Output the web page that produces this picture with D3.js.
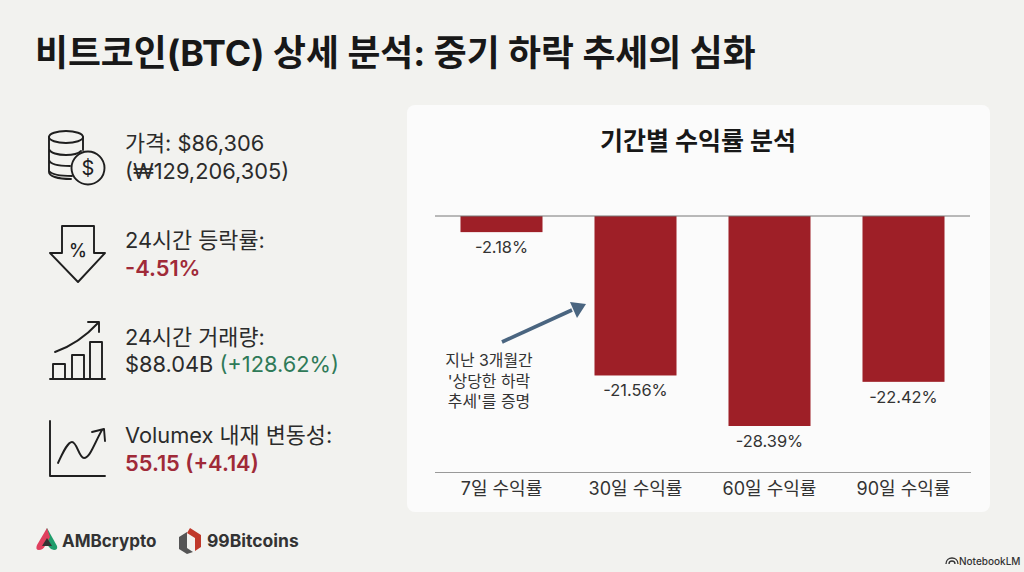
<!DOCTYPE html>
<html lang="ko">
<head>
<meta charset="utf-8">
<script src="https://cdnjs.cloudflare.com/ajax/libs/d3/7.8.5/d3.min.js"></script>
<style>
html,body{margin:0;padding:0;background:#f2f2ef;overflow:hidden}
svg{display:block}
text{font-family:Inter,"Noto Sans CJK KR","Noto Sans",sans-serif}
</style>
</head>
<body>
<svg id="c" width="1024" height="572"></svg>
<script>
const pageTitle = "비트코인(BTC) 상세 분석: 중기 하락 추세의 심화";
const chartTitle = "기간별 수익률 분석";
const categories = ["7일 수익률", "30일 수익률", "60일 수익률", "90일 수익률"];
const returns = [-2.18, -21.56, -28.39, -22.42];
const noteLines = ["지난 3개월간", "'상당한 하락", "추세'를 증명"];
const stat1 = ["가격: $86,306", "(₩129,206,305)"];
const stat2 = ["24시간 등락률:", "-4.51%"];
const stat3 = ["24시간 거래량:", "$88.04B ", "(+128.62%)"];
const stat4 = ["Volumex 내재 변동성:", "55.15 (+4.14)"];

const RED = "#9e1f27", INK = "#1f1f1f", TXT = "#2b2b2b", SLATE = "#4a6580";
const FS = 21.8;
const svg = d3.select("#c");

svg.append("text").attr("x", 35).attr("y", 66).attr("font-size", 35.8).attr("font-weight", 700)
  .attr("fill", "#181818").text(pageTitle);

// Panel
svg.append("rect").attr("x", 407).attr("y", 105).attr("width", 583).attr("height", 407)
  .attr("rx", 8).attr("fill", "#fbfbfb");
svg.append("text").attr("x", 698).attr("y", 150).attr("text-anchor", "middle")
  .attr("font-size", 25).attr("font-weight", 700).attr("fill", "#181818").text(chartTitle);

// Scales
const x = d3.scaleBand().domain(categories).range([434.5, 970.5]).paddingInner(0.388).paddingOuter(0.194);
const y = d3.scaleLinear().domain([0, -28.39]).range([216, 426]);

// Bars
svg.append("g").selectAll("rect").data(returns).join("rect")
  .attr("x", (d, i) => x(categories[i]))
  .attr("y", y(0))
  .attr("width", x.bandwidth())
  .attr("height", d => y(d) - y(0))
  .attr("fill", RED);

// Zero line
svg.append("line").attr("x1", 435).attr("x2", 970).attr("y1", 216).attr("y2", 216)
  .attr("stroke", "#777").attr("stroke-width", 1);

// Value labels
svg.append("g").selectAll("text").data(returns).join("text")
  .attr("x", (d, i) => x(categories[i]) + x.bandwidth() / 2)
  .attr("y", d => y(d) + 21)
  .attr("text-anchor", "middle").attr("font-size", 16.4).attr("fill", "#333")
  .text(d => d.toFixed(2) + "%");

// Category axis
const axis = svg.append("g").attr("transform", "translate(0,472)")
  .call(d3.axisBottom(x).tickSize(0).tickPadding(10));
axis.select(".domain").attr("stroke", "#999").attr("stroke-width", 1.2);
axis.selectAll("text").attr("font-size", 18).attr("fill", "#333")
  .style("font-family", 'Inter,"Noto Sans CJK KR",sans-serif');

// Annotation
svg.append("line").attr("x1", 502).attr("y1", 342).attr("x2", 572).attr("y2", 310)
  .attr("stroke", SLATE).attr("stroke-width", 3.6);
svg.append("path").attr("d", "M586,304 L570,302 L577,318 Z").attr("fill", SLATE);
svg.append("g").selectAll("text").data(noteLines).join("text")
  .attr("x", 489).attr("y", (d, i) => 366 + i * 20.5).attr("text-anchor", "middle")
  .attr("font-size", 15.9).attr("fill", "#333").text(d => d);

// Left stats
function two(xp, y1, y2, a, b, bColor, bWeight) {
  svg.append("text").attr("x", xp).attr("y", y1).attr("font-size", FS).attr("fill", TXT).text(a);
  svg.append("text").attr("x", xp).attr("y", y2).attr("font-size", FS).attr("fill", bColor)
    .attr("font-weight", bWeight).text(b);
}
two(125, 151, 179, stat1[0], stat1[1], TXT, 400);
two(125, 248, 276, stat2[0], stat2[1], "#a02a38", 600);
svg.append("text").attr("x", 125).attr("y", 345).attr("font-size", FS).attr("fill", TXT).text(stat3[0]);
const t3 = svg.append("text").attr("x", 125).attr("y", 372).attr("font-size", FS).attr("fill", TXT);
t3.append("tspan").text(stat3[1]);
t3.append("tspan").attr("fill", "#2f7a58").text(stat3[2]);
two(125, 443, 471, stat4[0], stat4[1], "#a02a38", 600);

// Icons
const ic = svg.append("g").attr("fill", "none").attr("stroke", INK).attr("stroke-width", 1.9)
  .attr("stroke-linejoin", "round").attr("stroke-linecap", "round");
// coins
ic.append("ellipse").attr("cx", 66).attr("cy", 137).attr("rx", 17).attr("ry", 6);
ic.append("path").attr("d", "M49,137 V172 C49,176 57,179 71,179 M83,137 V150 M49,149 C50,153 58,155 66,155 C72,155 78,154 81,151 M49,160 C50,164 58,166 70,166 M49,171 C52,175 60,176 72,176");
ic.append("circle").attr("cx", 88).attr("cy", 168).attr("r", 16.5).attr("fill", "#f2f2ef");
svg.append("text").attr("x", 88).attr("y", 175).attr("text-anchor", "middle").attr("font-size", 20).attr("fill", INK).text("$");
// down arrow
ic.append("path").attr("d", "M62,226 H94 V253 H105 L78,282 L50,253 H62 Z");
svg.append("text").attr("x", 78).attr("y", 257).attr("text-anchor", "middle").attr("font-size", 18).attr("font-weight", 500).attr("fill", INK).text("%");
// volume bars
ic.append("path").attr("d", "M50,379 H105 M53,379 V364 H65 V379 M72,379 V355 H84 V379 M90,379 V342 H102 V379");
ic.append("path").attr("d", "M55,352 C72,346 86,336 98,323");
ic.append("path").attr("d", "M88,322 H99 V332");
// line chart
ic.append("path").attr("d", "M50,421 V476 H105");
ic.append("path").attr("d", "M58,463 C64,450 68,442 72,442 C77,442 79,458 84,458 C90,458 94,444 102,430");
ic.append("path").attr("d", "M92,432 L104,429 L105,441");

// Logos
const lg = svg.append("g");
lg.append("path").attr("d", "M47,528 L57,546 Q58,550 54,550 Q51,550 49,547 L43,538 Z").attr("fill", "#1f9d6b");
lg.append("path").attr("d", "M47,528 L37,545 Q35,550 39,550 Q43,550 45,546 L50,537 Z").attr("fill", "#e0405e");
lg.append("path").attr("d", "M47,538 L52,546 H42 Z").attr("fill", "#333");
svg.append("text").attr("x", 62).attr("y", 547).attr("font-size", 17).attr("font-weight", 700).attr("fill", "#333").text("AMBcrypto");
lg.append("path").attr("d", "M179,537 L187,532 V548 L193,552 L187,554 L179,549 Z").attr("fill", "#555");
lg.append("path").attr("d", "M190,528 L201,535 V547 L195,551 V538 L187,533 Z").attr("fill", "#c0392b");
svg.append("text").attr("x", 207).attr("y", 547).attr("font-size", 17.5).attr("font-weight", 700).attr("fill", "#333").text("99Bitcoins");

// NotebookLM mark
lg.append("path").attr("d", "M946,564 C946,556 958,556 958,564 M949,564 C949,560 955,560 955,564").attr("fill", "none").attr("stroke", "#333").attr("stroke-width", 1.3);
svg.append("text").attr("x", 959).attr("y", 565).attr("font-size", 10).attr("font-weight", 500).attr("fill", "#333").text("NotebookLM");
</script>
</body>
</html>
